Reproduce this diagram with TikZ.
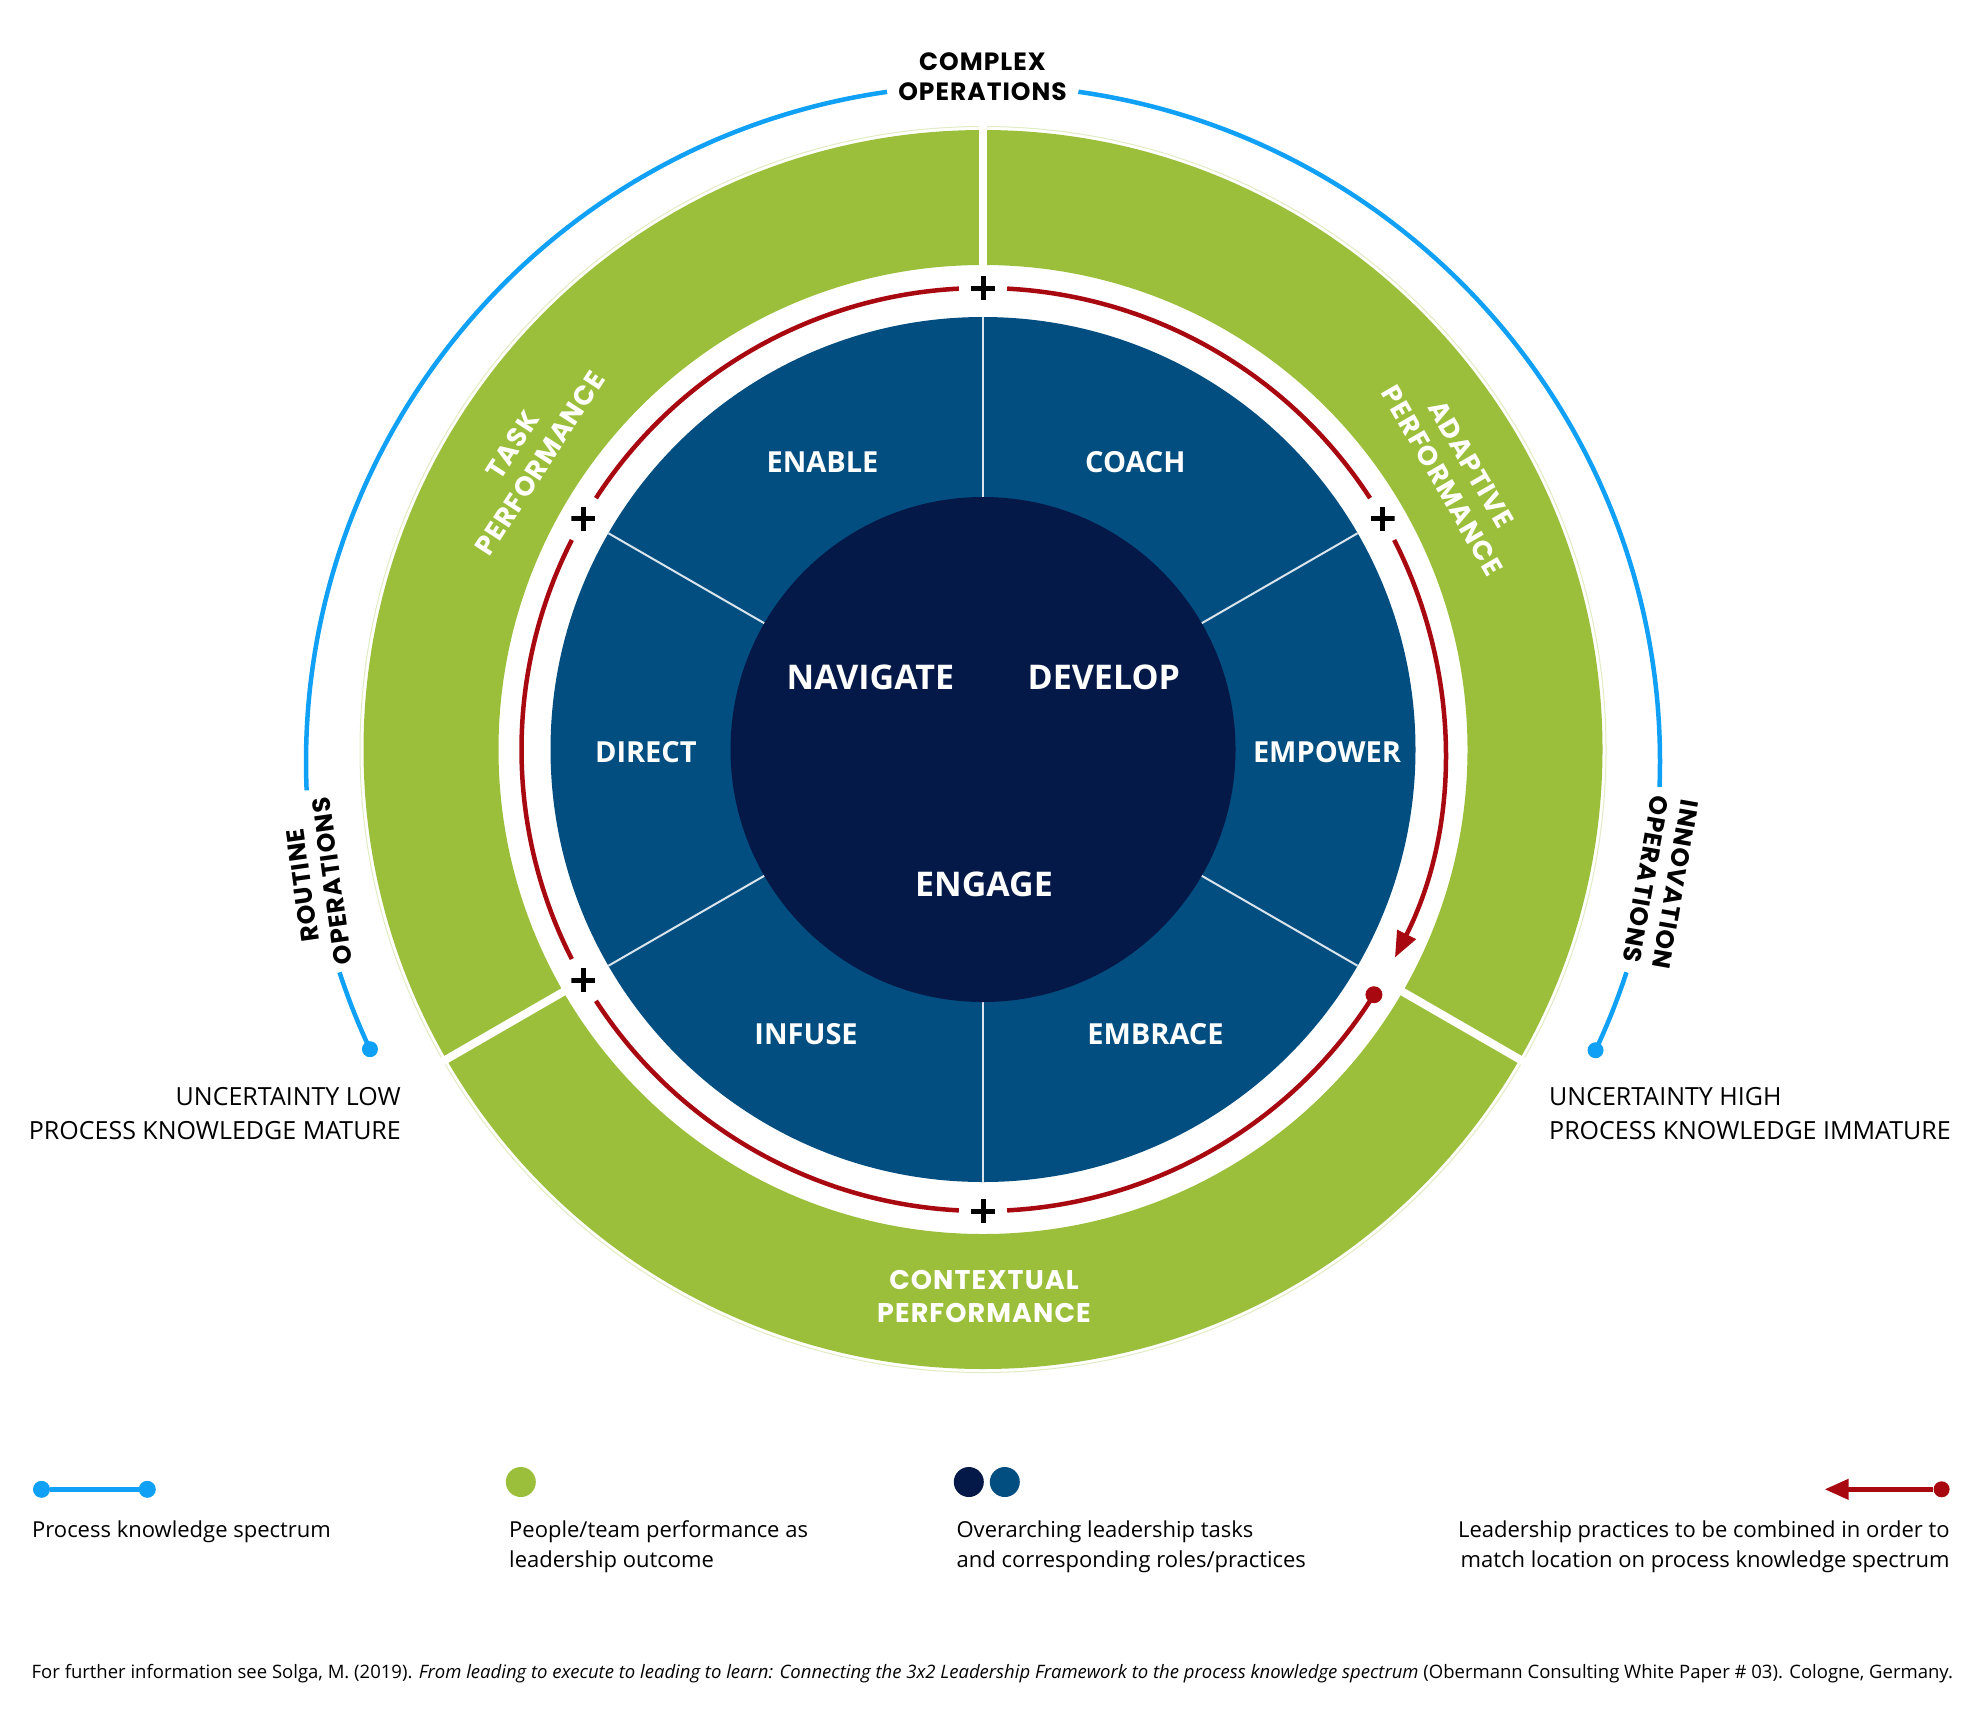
\documentclass[tikz,border=0pt]{standalone}
\usepackage{fontspec}
\setmainfont{Open Sans}
\newfontfamily\headfont{Poppins}[LetterSpace=4]
\usetikzlibrary{arrows.meta,calc}
\definecolor{ringgreen}{RGB}{155,191,59}
\definecolor{sectorblue}{RGB}{2,78,128}
\definecolor{navy}{RGB}{4,25,72}
\definecolor{redc}{RGB}{168,8,16}
\definecolor{skyblue}{RGB}{16,160,245}
\begin{document}
\begin{tikzpicture}[x=1pt,y=1pt,
  tasklab/.style={text=white, font=\bfseries\fontsize{34}{40}\selectfont, inner sep=0},
  practlab/.style={text=white, font=\bfseries\fontsize{29}{34}\selectfont, inner sep=0},
  perflab/.style={text=white, font=\headfont\bfseries\fontsize{27}{33}\selectfont, align=center, inner sep=0},
  oplab/.style={text=black, font=\headfont\bfseries\fontsize{25}{30}\selectfont, align=center, inner sep=0},
  uncert/.style={font=\fontsize{25}{34}\selectfont, inner sep=0},
  legtext/.style={font=\fontsize{22}{30}\selectfont, inner sep=0},
  skyline/.style={skyblue, line width=4.5pt},
  skydot/.style={circle, fill=skyblue, minimum size=16pt, inner sep=0},
  reddot/.style={circle, fill=redc, minimum size=17pt, inner sep=0},
  redline/.style={redc, line width=4.5pt},
  bigdot/.style={circle, minimum size=30pt, inner sep=0},
  plusmark/.style={minimum size=24pt, inner sep=0, path picture={
     \draw[black, line width=5pt] (path picture bounding box.west) -- (path picture bounding box.east)
       (path picture bounding box.north) -- (path picture bounding box.south);}}
]
\useasboundingbox (0,0) rectangle (1978,-1730);
\fill[white] (0,0) rectangle (1978,-1730);
\coordinate (C) at (983,-749.5);
\coordinate (B) at (983,-762);

% green performance ring
\fill[ringgreen, even odd rule] (C) circle[radius=619.5pt] (C) circle[radius=484.5pt];
\draw[ringgreen!30, line width=1pt] (C) circle[radius=623pt];
\foreach \a in {90,210,330}
  \draw[white, line width=8pt] ($(C)+(\a:480pt)$) -- ($(C)+(\a:628pt)$);

% practice sectors
\fill[sectorblue] (C) circle[radius=432.5pt];
\foreach \a in {30,90,...,330}
  \draw[white!85!sectorblue, line width=2pt] (C) -- ($(C)+(\a:432.5pt)$);
\fill[navy] (C) circle[radius=252.5pt];

% red practice circle
\foreach \s/\e in {-32.1/-87,-93/-147,-153/-207,-213/-267,-273/-327}
  \draw[redline] ($(C)+(\s:461.5pt)$) arc[start angle=\s, end angle=\e, radius=461.5pt];
\draw[redline, -{Triangle[length=26pt,width=20pt]}] ($(C)+(-333:461.5pt)$)
  arc[start angle=-333, end angle=-386.8, radius=461.5pt];
\node[reddot] (rstart) at ($(C)+(-32.1:461.5pt)$) {};
\foreach \a in {90,150,210,270,30}
  \node[plusmark] (plus\a) at ($(C)+(\a:461.5pt)$) {};

% blue process knowledge spectrum
\draw[skyline] ($(B)+(205.1:677pt)$) arc[start angle=205.1, end angle=198.1, radius=677pt];
\draw[skyline] ($(B)+(182.4:677pt)$) arc[start angle=182.4, end angle=98.15, radius=677pt];
\draw[skyline] ($(B)+(81.9:677pt)$) arc[start angle=81.9, end angle=-2.1, radius=677pt];
\draw[skyline] ($(B)+(-18.1:677pt)$) arc[start angle=-18.1, end angle=-25.2, radius=677pt];
\node[skydot] (lowend) at ($(B)+(205.1:677pt)$) {};
\node[skydot] (highend) at ($(B)+(-25.2:677pt)$) {};

% labels
\node[oplab] (complex) at (982.5,-76.5) {COMPLEX\\OPERATIONS};
\node[oplab, rotate=98] (routine) at (317.3,-883.3) {ROUTINE\\OPERATIONS};
\node[oplab, rotate=-100] (innov) at (1660.8,-882) {INNOVATION\\OPERATIONS};

\node[perflab, rotate=57] (task) at (526.3,-454.2) {TASK\\PERFORMANCE};
\node[perflab, rotate=-60] (adapt) at (1456.7,-472.5) {ADAPTIVE\\PERFORMANCE};
\node[perflab] (context) at (984,-1296.8) {CONTEXTUAL\\PERFORMANCE};

\node[tasklab] (navigate) at (870.4,-677.4) {NAVIGATE};
\node[tasklab] (develop) at (1103.8,-677.4) {DEVELOP};
\node[tasklab] (engage) at (984,-884.3) {ENGAGE};

\node[practlab] (enable) at (822.5,-461.7) {ENABLE};
\node[practlab] (coach) at (1135.4,-461.7) {COACH};
\node[practlab] (direct) at (645.9,-751.9) {DIRECT};
\node[practlab] (empower) at (1327,-751.9) {EMPOWER};
\node[practlab] (infuse) at (806.1,-1034.4) {INFUSE};
\node[practlab] (embrace) at (1155.5,-1034.4) {EMBRACE};

\node[uncert, anchor=north east, align=right] (lowtxt) at (401,-1087)
  {UNCERTAINTY LOW\\PROCESS KNOWLEDGE MATURE};
\node[uncert, anchor=north west, align=left] (hightxt) at (1549,-1087)
  {UNCERTAINTY HIGH\\PROCESS KNOWLEDGE IMMATURE};

% legend
\node[circle, fill=skyblue, minimum size=17pt, inner sep=0] (la) at (41.5,-1489.3) {};
\node[circle, fill=skyblue, minimum size=17pt, inner sep=0] (lb) at (147.3,-1489.3) {};
\draw[skyline] (la) -- (lb);
\node[legtext, anchor=base west] (legsky) at (32,-1537) {Process knowledge spectrum};

\node[bigdot, fill=ringgreen] (lgreen) at (520.8,-1482) {};
\node[legtext, anchor=base west, align=left] (leggreen) at (509,-1567)
  {People/team performance as\\leadership outcome};

\node[bigdot, fill=navy] (lnavy) at (968.8,-1482) {};
\node[bigdot, fill=sectorblue] (lblue) at (1004.8,-1482) {};
\node[legtext, anchor=base west, align=left] (legblue) at (956.4,-1567)
  {Overarching leadership tasks\\and corresponding roles/practices};

\node[reddot, minimum size=16pt] (lrdot) at (1941.6,-1489.3) {};
\coordinate (lrtip) at (1824.7,-1489.3);
\draw[redline, -{Triangle[length=24pt,width=20pt]}] (lrdot) -- (lrtip);
\node[legtext, anchor=base east, align=right] (legred) at (1949.8,-1567)
  {Leadership practices to be combined in order to\\match location on process knowledge spectrum};

% footer
\node[font=\fontsize{18.5}{22}\selectfont, inner sep=0, anchor=base west] (footer) at (31.5,-1678)
  {For further information see Solga, M. (2019). \textit{From leading to execute to leading to learn: Connecting the 3x2 Leadership Framework to the process knowledge spectrum} (Obermann Consulting White Paper \# 03). Cologne, Germany.};
\end{tikzpicture}
\end{document}
